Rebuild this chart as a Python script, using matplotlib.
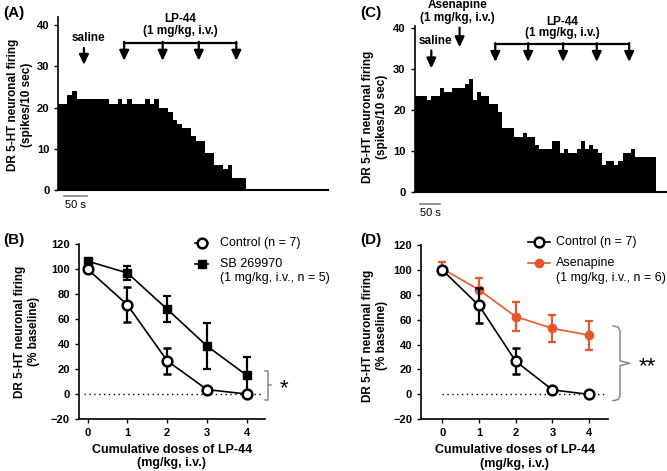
import matplotlib
matplotlib.use('Agg')
import matplotlib.pyplot as plt
import numpy as np
from matplotlib.transforms import blended_transform_factory

plt.rcParams['font.family'] = ['Liberation Sans', 'DejaVu Sans']

BIN_SEC = 10
ORANGE = '#E8562E'

# (A) single cell, spikes per 10 s bin
rate_a = [21, 21, 23, 24, 22, 22, 22, 22, 22, 22, 22, 21, 21, 22, 21, 22, 21, 21, 21, 22, 21,
          22, 20, 20, 19, 17, 16, 15, 15, 13, 12, 12, 9, 9, 6, 6, 5, 6, 3, 3, 3]
saline_a = [56]
lp44_a = [144, 228, 307, 389]

# (C) single cell, spikes per 10 s bin
rate_c = [23.5, 23.5, 23.5, 22.5, 23.5, 23.5, 25.5, 24.5, 24.5, 25.5, 25.5, 25.5, 26.5, 27.5,
          22.5, 24.5, 23.5, 23.5, 21.5, 21.5, 19.5, 15.5, 15.5, 15.5, 13.5, 13.5, 14.5, 13.5,
          13.5, 11.5, 10.5, 10.5, 10.5, 12.5, 12.5, 9.5, 10.5, 9.5, 9.5, 10.5, 12.5, 10.5,
          11.5, 10.5, 9.5, 6.5, 7.5, 7.5, 6.5, 7.5, 9.5, 9.5, 10.5, 8.5, 8.5, 8.5, 8.5, 8.5]
saline_c = [40]
asenapine_c = [108]
lp44_c = [194, 273, 357, 438, 516]

# (B) / (D) dose response, % baseline
doses = [0, 1, 2, 3, 4]
control_mean = [100, 71.4, 26.6, 3.6, 0]
control_sem = [0, 14, 10.5, 1.5, 0]
sb_mean = [106.5, 97, 68, 38.5, 15]
sb_sem = [2, 6, 10.3, 18.3, 15]
asen_mean = [101, 84, 62.5, 53, 47.5]
asen_sem = [5.5, 9.5, 11.3, 11, 11.7]


def drop_arrow(ax, x: float, y0: float, y1: float):
    ax.annotate('', xy=(x, y1), xytext=(x, y0), annotation_clip=False,
                arrowprops=dict(arrowstyle='-|>,head_length=0.6,head_width=0.28',
                                color='black', lw=1.6, shrinkA=0, shrinkB=0))


def lp44_bracket(ax, times, y_top: float, y_tip: float, y_label: float):
    ax.plot([min(times), max(times)], [y_top, y_top], color='black', lw=1.6, clip_on=False)
    for t in times:
        drop_arrow(ax, t, y_top + 0.2, y_tip)
    mid = (min(times) + max(times)) / 2
    ax.text(mid, y_label + 2.8, 'LP-44', ha='center', va='center', fontsize=8.5, fontweight='bold')
    ax.text(mid, y_label, '(1 mg/kg, i.v.)', ha='center', va='center', fontsize=8.5, fontweight='bold')


def draw_trace(ax, rates, xmax: float, ymax: float, bar_y: float, bar_txt_y: float):
    t = np.arange(len(rates)) * BIN_SEC
    ax.bar(t, rates, width=BIN_SEC, align='edge', color='black', linewidth=0)
    ax.set_xlim(0, xmax)
    ax.set_ylim(0, ymax)
    ax.spines['top'].set_visible(False)
    ax.spines['right'].set_visible(False)
    ax.spines['left'].set_linewidth(1.2)
    ax.spines['bottom'].set_linewidth(1.5)
    ax.set_xticks([])
    ax.set_yticks([0, 10, 20, 30, 40])
    ax.tick_params(axis='y', direction='out', length=3, width=1, labelsize=8)
    for lab in ax.get_yticklabels():
        lab.set_fontweight('bold')
    ax.set_ylabel('DR 5-HT neuronal firing\n(spikes/10 sec)', fontsize=8.5, fontweight='bold')
    trans = blended_transform_factory(ax.transData, ax.transAxes)
    ax.plot([12, 62], [bar_y, bar_y], color='gray', lw=1.2, transform=trans, clip_on=False)
    ax.text(37, bar_txt_y, '50 s', transform=trans, ha='center', va='center', fontsize=8)


def draw_dose(ax, xlim):
    ax.set_xlim(*xlim)
    ax.set_ylim(-20, 120)
    ax.spines['top'].set_visible(False)
    ax.spines['right'].set_visible(False)
    ax.spines['left'].set_linewidth(1.2)
    ax.spines['bottom'].set_linewidth(1.2)
    ax.set_xticks(doses)
    ax.set_yticks(np.arange(-20, 121, 20))
    ax.set_yticklabels(['\u221220'] + [str(v) for v in range(0, 121, 20)])
    ax.tick_params(direction='out', length=3, width=1, labelsize=8)
    for lab in ax.get_xticklabels() + ax.get_yticklabels():
        lab.set_fontweight('bold')
    ax.set_ylabel('DR 5-HT neuronal firing\n(% baseline)', fontsize=8.5, fontweight='bold')
    ax.set_xlabel('Cumulative doses of LP-44\n(mg/kg, i.v.)', fontsize=9, fontweight='bold',
                  labelpad=4)


def control_line(ax):
    ax.errorbar(doses, control_mean, yerr=control_sem, fmt='-o', color='black', lw=1.2,
                ms=7, mfc='white', mec='black', mew=1.8, elinewidth=1.6, capsize=3,
                capthick=1.6, zorder=4)


def legend_entry(ax, x0, x1, xt, y, label, **style):
    ax.plot([x0, x1], [y, y], color=style.get('color', 'black'), lw=1.2,
            transform=ax.transAxes, clip_on=False)
    ax.plot([(x0 + x1) / 2], [y], transform=ax.transAxes, clip_on=False, ls='none', **style)
    ax.text(xt, y, label, transform=ax.transAxes, va='center', fontsize=9)


fig = plt.figure(figsize=(6.67, 4.71), dpi=100)

# ---- (A)
ax_a = fig.add_axes([0.0874, 0.5966, 0.4048, 0.368])
draw_trace(ax_a, rate_a, 590, 42.1, -0.035, -0.085)
ax_a.yaxis.set_label_coords(-0.094, 0.49)
for t in saline_a:
    drop_arrow(ax_a, t, 34.5, 30.4)
ax_a.text(66, 36.8, 'saline', ha='center', va='center', fontsize=8.5, fontweight='bold')
lp44_bracket(ax_a, lp44_a, 35.8, 31.4, 38.7)

# ---- (C)
ax_c = fig.add_axes([0.6217, 0.593, 0.3783, 0.3518])
draw_trace(ax_c, rate_c, 607, 40.6, -0.074, -0.127)
ax_c.yaxis.set_label_coords(-0.106, 0.45)
for t in saline_c:
    drop_arrow(ax_c, t, 34.6, 30.2)
ax_c.text(51, 37.0, 'saline', ha='center', va='center', fontsize=8.5, fontweight='bold')
for t in asenapine_c:
    drop_arrow(ax_c, t, 40.2, 35.4)
ax_c.text(103, 45.8, 'Asenapine', ha='center', va='center', fontsize=8.5, fontweight='bold')
ax_c.text(103, 42.6, '(1 mg/kg, i.v.)', ha='center', va='center', fontsize=8.5, fontweight='bold')
lp44_bracket(ax_c, lp44_c, 36.2, 31.8, 38.8)

# ---- (B)
ax_b = fig.add_axes([0.1184, 0.1104, 0.2789, 0.3709])
draw_dose(ax_b, (-0.22, 4.46))
ax_b.yaxis.set_label_coords(-0.21, 0.5)
ax_b.hlines(0, -0.1, 4.41, colors='black', linestyles=(0, (1, 2.5)), lw=1.0)
ax_b.errorbar(doses, sb_mean, yerr=sb_sem, fmt='-s', color='black', lw=1.2, ms=6,
              elinewidth=1.6, capsize=3, capthick=1.6, zorder=3)
control_line(ax_b)
legend_entry(ax_b, 0.624, 0.694, 0.758, 1.006, 'Control (n = 7)',
             marker='o', ms=7, mfc='white', mec='black', mew=1.8, color='black')
legend_entry(ax_b, 0.624, 0.694, 0.758, 0.887, 'SB 269970',
             marker='s', ms=6, color='black')
ax_b.text(0.758, 0.807, '(1 mg/kg, i.v., n = 5)', transform=ax_b.transAxes, va='center', fontsize=9)
# significance bracket
bx0, bx1, bx2, btop, bbot, bmid = 4.47, 4.54, 4.61, 18.7, -4.8, 7.2
ax_b.plot([bx0, bx1, bx1, bx0], [btop, btop, bbot, bbot], color='#888888', lw=1.1, clip_on=False)
ax_b.plot([bx1, bx2], [bmid, bmid], color='#888888', lw=1.1, clip_on=False)
ax_b.text(4.93, bmid - 3, '*', ha='center', va='center', fontsize=16)

# ---- (D)
ax_d = fig.add_axes([0.6316, 0.1098, 0.2804, 0.3701])
draw_dose(ax_d, (-0.57, 4.52))
ax_d.yaxis.set_label_coords(-0.178, 0.48)
ax_d.hlines(0, 0, 4.48, colors='black', linestyles=(0, (1, 2.5)), lw=1.0)
ax_d.errorbar(doses, asen_mean, yerr=asen_sem, fmt='-o', color=ORANGE, lw=1.2, ms=6,
              elinewidth=1.6, capsize=3, capthick=1.6, zorder=3)
control_line(ax_d)
legend_entry(ax_d, 0.571, 0.688, 0.719, 1.019, 'Control (n = 7)',
             marker='o', ms=7, mfc='white', mec='black', mew=1.8, color='black')
legend_entry(ax_d, 0.571, 0.688, 0.719, 0.895, 'Asenapine',
             marker='o', ms=6, color=ORANGE)
ax_d.text(0.719, 0.809, '(1 mg/kg, i.v., n = 6)', transform=ax_d.transAxes, va='center', fontsize=9)
dx0, dx1, dx2, dtop, dbot, dmid = 4.65, 4.84, 5.09, 55, -5.1, 25
ax_d.plot([dx0, dx1 - 0.05, dx1, dx1, dx2], [dtop, dtop - 1, dtop - 4, dmid + 2, dmid],
          color='#888888', lw=1.1, clip_on=False)
ax_d.plot([dx0, dx1 - 0.05, dx1, dx1, dx2], [dbot, dbot + 1, dbot + 4, dmid - 2, dmid],
          color='#888888', lw=1.1, clip_on=False)
ax_d.text(5.57, dmid - 3, '**', ha='center', va='center', fontsize=16)

# panel letters
fig.text(0.005, 0.972, '(A)', fontsize=11, fontweight='bold', va='center')
fig.text(0.005, 0.49, '(B)', fontsize=11, fontweight='bold', va='center')
fig.text(0.540, 0.972, '(C)', fontsize=11, fontweight='bold', va='center')
fig.text(0.540, 0.49, '(D)', fontsize=11, fontweight='bold', va='center')

fig.savefig('out.png', dpi=100)
